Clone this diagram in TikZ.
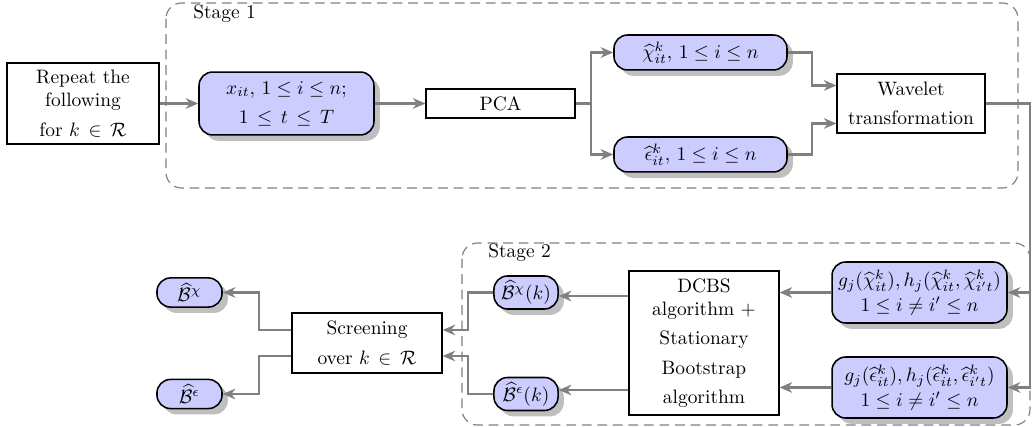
\documentclass[tikz,border=0pt]{standalone}
\usepackage{amsmath,amssymb}
\usetikzlibrary{shadows,arrows.meta,calc}
\begin{document}
\begin{tikzpicture}[x=0.515pt,y=-0.515pt,
  plain/.style={draw=black,line width=0.6pt,fill=white,inner sep=0pt,align=center},
  datanode/.style={draw=black,line width=0.8pt,fill=blue!20,rounded corners=7pt,inner sep=0pt,align=center,
    drop shadow={shadow xshift=3pt,shadow yshift=-3pt,fill=black!25,opacity=1}},
  flow/.style={draw=black!50,line width=1.4pt,-{Stealth[length=6.5pt,width=5.5pt]}},
  line/.style={draw=black!50,line width=1.4pt},
  stagebox/.style={draw=black!50,dash pattern=on 5pt off 3pt,line width=0.6pt,rounded corners=8pt}]
\useasboundingbox (0,0) rectangle (1033,427);
% stage boxes
\draw[stagebox] (166,3) rectangle (1018,188);
\node[anchor=west,inner sep=0pt] (s1) at (193,14) {Stage 1};
\draw[stagebox] (462,243) rectangle (1030,425);
\node[anchor=west,inner sep=0pt] (s2) at (488,253) {Stage 2};
% stage 1 nodes
\node[plain,minimum width=78.3pt,minimum height=41.7pt] (rep) at (83,103.5) {Repeat the\\following\\[3pt]for $k\,\in\,\mathcal{R}$};
\node[datanode,minimum width=90.1pt,minimum height=32.4pt] (x) at (286.5,103.5) {$x_{it},\,1\le i\le n;$\\[3pt]$1\,\le\,t\,\le\,T$};
\node[plain,minimum width=76.7pt,minimum height=14.9pt] (pca) at (500.5,103.5) {PCA};
\node[datanode,minimum width=89.1pt,minimum height=18pt] (chi) at (700.5,52.5) {$\widehat{\chi}^{k}_{it},\,1\le i\le n$};
\node[datanode,minimum width=89.1pt,minimum height=18pt] (eps) at (700.5,154.5) {$\widehat{\epsilon}^{k}_{it},\,1\le i\le n$};
\node[plain,minimum width=76.2pt,minimum height=30.4pt] (wav) at (911,103.5) {Wavelet\\[3pt]transformation};
% stage 2 nodes
\node[datanode,minimum width=90.1pt,minimum height=31.4pt] (gchi) at (919.5,292.5) {$g_j(\widehat{\chi}^{k}_{it}),h_j(\widehat{\chi}^{k}_{it},\widehat{\chi}^{k}_{i't})$\\[1pt]$1\le i\ne i'\le n$};
\node[datanode,minimum width=90.1pt,minimum height=31.4pt] (geps) at (919.5,387.5) {$g_j(\widehat{\epsilon}^{k}_{it}),h_j(\widehat{\epsilon}^{k}_{it},\widehat{\epsilon}^{k}_{i't})$\\[1pt]$1\le i\ne i'\le n$};
\node[plain,minimum width=77.3pt,minimum height=74.2pt] (dcbs) at (704,343) {DCBS\\algorithm $+$\\[3pt]Stationary\\[3pt]Bootstrap\\[3pt]algorithm};
\node[datanode,minimum width=33pt,minimum height=17pt] (bchik) at (526,292.5) {$\widehat{\mathcal{B}}^{\chi}(k)$};
\node[datanode,minimum width=33pt,minimum height=17pt] (bepsk) at (526,394) {$\widehat{\mathcal{B}}^{\epsilon}(k)$};
\node[plain,minimum width=77.3pt,minimum height=30.9pt] (scr) at (367,343) {Screening\\[3pt]over $k\,\in\,\mathcal{R}$};
\node[datanode,minimum width=33.5pt,minimum height=15pt] (bchi) at (189.5,292.5) {$\widehat{\mathcal{B}}^{\chi}$};
\node[datanode,minimum width=33.5pt,minimum height=15pt] (beps) at (189.5,394) {$\widehat{\mathcal{B}}^{\epsilon}$};
% connectors stage 1
\draw[flow] (rep.east) -- (x.west);
\draw[flow] (x.east) -- (pca.west);
\coordinate (split) at (591,103.5);
\draw[line] (pca.east) -- (split);
\draw[flow] (split) |- (chi.west);
\draw[flow] (split) |- (eps.west);
\coordinate (j1) at (812,52.5);
\coordinate (j2) at (812,154.5);
\draw[flow] (chi.east) -- (j1) |- ($(wav.west)+(0,-18)$);
\draw[flow] (eps.east) -- (j2) |- ($(wav.west)+(0,20)$);
% wavelet to stage 2
\coordinate (r1) at (1030,103.5);
\coordinate (r2) at (1030,292.5);
\draw[line] (wav.east) -- (r1) -- (r2);
\draw[flow] (r2) |- (geps.east);
\draw[flow] (r2) -- (gchi.east);
% stage 2
\draw[flow] (gchi.west) -- (gchi.west -| dcbs.east);
\draw[flow] (geps.west) -- (geps.west -| dcbs.east);
\draw[flow] (dcbs.west |- 0,296) -- (bchik.east |- 0,296);
\draw[flow] (dcbs.west |- 0,390) -- (bepsk.east |- 0,390);
\coordinate (k1) at (468,292.5);
\coordinate (k2) at (468,394);
\draw[flow] (bchik.west) -- (k1) |- (scr.east |- 0,330);
\draw[flow] (bepsk.west) -- (k2) |- (scr.east |- 0,356);
\coordinate (l1) at (259,330);
\coordinate (l2) at (259,356);
\draw[flow] (scr.west |- l1) -- (l1) |- (bchi.east);
\draw[flow] (scr.west |- l2) -- (l2) |- (beps.east);
\end{tikzpicture}
\end{document}
